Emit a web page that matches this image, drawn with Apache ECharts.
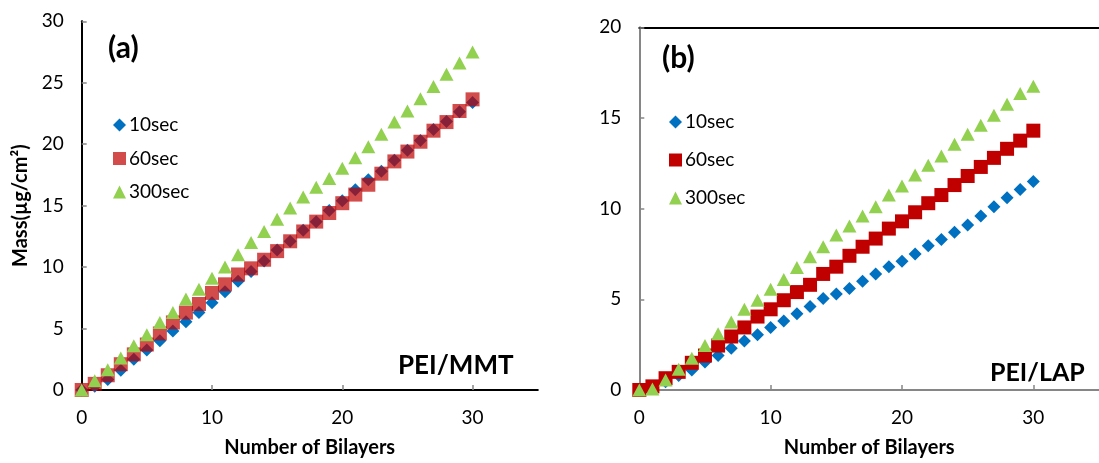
<!DOCTYPE html>
<html>
<head>
<meta charset="utf-8">
<script src="https://cdn.jsdelivr.net/npm/echarts@6/dist/echarts.min.js"></script>
<style>
  html, body { margin: 0; padding: 0; background: #fff; }
  #chart { width: 1099px; height: 463px; }
</style>
</head>
<body>
<div id="chart"></div>
<script>
// Number of deposited bilayers
const bilayers = [0, 1, 2, 3, 4, 5, 6, 7, 8, 9, 10, 11, 12, 13, 14, 15, 16, 17, 18, 19, 20, 21, 22, 23, 24, 25, 26, 27, 28, 29, 30];

// Panel (a): PEI/MMT, mass in µg/cm²
const mmt10 = [0, 0.3, 0.85, 1.6, 2.5, 3.25, 4.0, 4.8, 5.55, 6.3, 7.1, 8.0, 8.85, 9.65, 10.5, 11.4, 12.1, 13.0, 13.7, 14.6, 15.4, 16.3, 17.1, 17.8, 18.7, 19.5, 20.3, 21.2, 21.85, 22.65, 23.4];
const mmt60 = [0, 0.5, 1.2, 2.1, 2.9, 3.7, 4.6, 5.5, 6.3, 7.0, 7.9, 8.6, 9.4, 9.9, 10.6, 11.3, 12.1, 12.9, 13.7, 14.4, 15.2, 15.9, 16.7, 17.6, 18.6, 19.4, 20.2, 21.1, 21.8, 22.7, 23.65];
const mmt300 = [0, 0.75, 1.65, 2.6, 3.6, 4.5, 5.5, 6.3, 7.4, 8.2, 9.1, 10.0, 11.0, 12.0, 12.9, 13.9, 14.8, 15.7, 16.5, 17.2, 18.05, 18.9, 19.8, 20.8, 21.8, 22.7, 23.7, 24.7, 25.7, 26.6, 27.5];

// Panel (b): PEI/LAP, mass in µg/cm²
const lap10 = [0, 0.1, 0.45, 0.8, 1.1, 1.55, 1.9, 2.3, 2.7, 3.05, 3.45, 3.8, 4.2, 4.6, 5.05, 5.3, 5.6, 6.0, 6.4, 6.8, 7.1, 7.5, 7.95, 8.3, 8.7, 9.1, 9.6, 10.1, 10.6, 11.05, 11.5];
const lap60 = [0, 0.2, 0.65, 1.0, 1.5, 1.9, 2.45, 2.95, 3.45, 4.05, 4.45, 4.95, 5.4, 5.8, 6.4, 6.8, 7.4, 7.9, 8.35, 8.9, 9.3, 9.8, 10.3, 10.75, 11.3, 11.8, 12.3, 12.8, 13.3, 13.75, 14.3];
const lap300 = [0, 0.05, 0.55, 1.15, 1.75, 2.45, 3.1, 3.75, 4.45, 4.95, 5.55, 6.1, 6.75, 7.35, 7.9, 8.55, 9.05, 9.6, 10.1, 10.75, 11.25, 11.85, 12.4, 12.9, 13.55, 14.1, 14.6, 15.15, 15.75, 16.35, 16.75];

const seriesNames = ['10sec', '60sec', '300sec'];
const xTicks = [0, 10, 20, 30];

const FONT = 'Lato, "Open Sans", sans-serif';
const AXIS_GREY = '#868686';
const BLUE = '#0070C0';
const RED = '#C00000';
const GREEN = '#92D050';

const pairs = (ys) => bilayers.map((x, i) => [x, ys[i]]);

function bottomAxis(gridIndex, withName) {
  return {
    type: 'value', gridIndex, min: 0, max: 35, interval: 10,
    axisLine: { show: true, lineStyle: { color: AXIS_GREY, width: 2 } },
    axisTick: { show: true, inside: true, length: 5, lineStyle: { color: AXIS_GREY, width: 1.5 } },
    axisLabel: {
      margin: 18, color: '#000', fontFamily: FONT, fontSize: 19, showMaxLabel: false,
      formatter: (v) => (xTicks.indexOf(v) >= 0 ? String(v) : '')
    },
    splitLine: { show: false },
    name: withName ? 'Number of Bilayers' : '', nameLocation: 'middle', nameGap: 48,
    nameTextStyle: { color: '#000', fontFamily: FONT, fontSize: 20, fontWeight: 'bold' }
  };
}

function borderAxis(gridIndex, position, max) {
  return {
    type: 'value', gridIndex, position, min: 0, max,
    axisLine: { show: true, lineStyle: { color: '#000', width: 2 } },
    axisTick: { show: false }, axisLabel: { show: false }, splitLine: { show: false }
  };
}

function leftAxis(gridIndex, max, name) {
  return {
    type: 'value', gridIndex, min: 0, max, interval: 5,
    axisLine: { show: true, lineStyle: { color: AXIS_GREY, width: 2 } },
    axisTick: { show: true, inside: true, length: 5, lineStyle: { color: AXIS_GREY, width: 1.5 } },
    axisLabel: { margin: 18, color: '#000', fontFamily: FONT, fontSize: 19 },
    splitLine: { show: false },
    name: name || '', nameLocation: 'middle', nameGap: 51,
    nameTextStyle: { color: '#000', fontFamily: FONT, fontSize: 20, fontWeight: 'bold' }
  };
}

function scatter(name, xi, yi, data, symbol, size, style, z) {
  return {
    type: 'scatter', name, xAxisIndex: xi, yAxisIndex: yi, data: pairs(data),
    symbol, symbolSize: size, itemStyle: style, z, silent: true, clip: false
  };
}

function legendFor(left, top, gap, redOpacity) {
  return {
    orient: 'vertical', left, top, itemGap: gap, itemWidth: 13, itemHeight: 13,
    selectedMode: false,
    textStyle: { fontFamily: FONT, fontSize: 19, color: '#000', lineHeight: 20, padding: [0, 0, 0, -2] },
    data: [
      { name: seriesNames[0], icon: 'diamond', itemStyle: { color: BLUE, opacity: 1 } },
      { name: seriesNames[1], icon: 'rect', itemStyle: { color: RED, opacity: redOpacity } },
      { name: seriesNames[2], icon: 'triangle', itemStyle: { color: GREEN, opacity: 1 } }
    ]
  };
}

const chart = echarts.init(document.getElementById('chart'), null, { renderer: 'canvas' });

chart.setOption({
  animation: false,
  backgroundColor: '#fff',
  grid: [
    { left: 81.7, top: 21.3, right: 1099 - 537.7, bottom: 463 - 396.7 },
    { left: 639.3, top: 27.3, right: -11, bottom: 463 - 397.3 }
  ],
  xAxis: [
    bottomAxis(0, true),
    borderAxis(0, 'top', 35),
    bottomAxis(1, true),
    borderAxis(1, 'top', 35)
  ],
  yAxis: [
    leftAxis(0, 30, 'Mass(µg/cm²)'),
    borderAxis(0, 'right', 30),
    leftAxis(1, 20, '')
  ],
  legend: [
    legendFor(108, 110, 13.5, 0.7),
    legendFor(664, 107, 18, 1)
  ],
  series: [
    scatter(seriesNames[0], 0, 0, mmt10, 'diamond', [13, 13], { color: BLUE, opacity: 1 }, 2),
    scatter(seriesNames[1], 0, 0, mmt60, 'rect', [14, 14], { color: RED, opacity: 0.7 }, 3),
    scatter(seriesNames[2], 0, 0, mmt300, 'triangle', [14, 13], { color: GREEN, opacity: 1 }, 4),
    scatter(seriesNames[0], 2, 2, lap10, 'diamond', [13, 13], { color: BLUE, opacity: 1 }, 2),
    scatter(seriesNames[1], 2, 2, lap60, 'rect', [14, 14], { color: RED, opacity: 1 }, 3),
    scatter(seriesNames[2], 2, 2, lap300, 'triangle', [14, 13], { color: GREEN, opacity: 1 }, 4)
  ],
  graphic: [
    { type: 'text', left: 108, top: 33, style: { text: '(a)', font: 'bold 30px ' + FONT, fill: '#000' } },
    { type: 'text', left: 662, top: 43, style: { text: '(b)', font: 'bold 30px ' + FONT, fill: '#000' } },
    { type: 'text', left: 398, top: 353, style: { text: 'PEI/MMT', font: 'bold 26px ' + FONT, fill: '#000' } },
    { type: 'text', left: 990, top: 360, style: { text: 'PEI/LAP', font: 'bold 25px ' + FONT, fill: '#000' } }
  ]
});
</script>
</body>
</html>
